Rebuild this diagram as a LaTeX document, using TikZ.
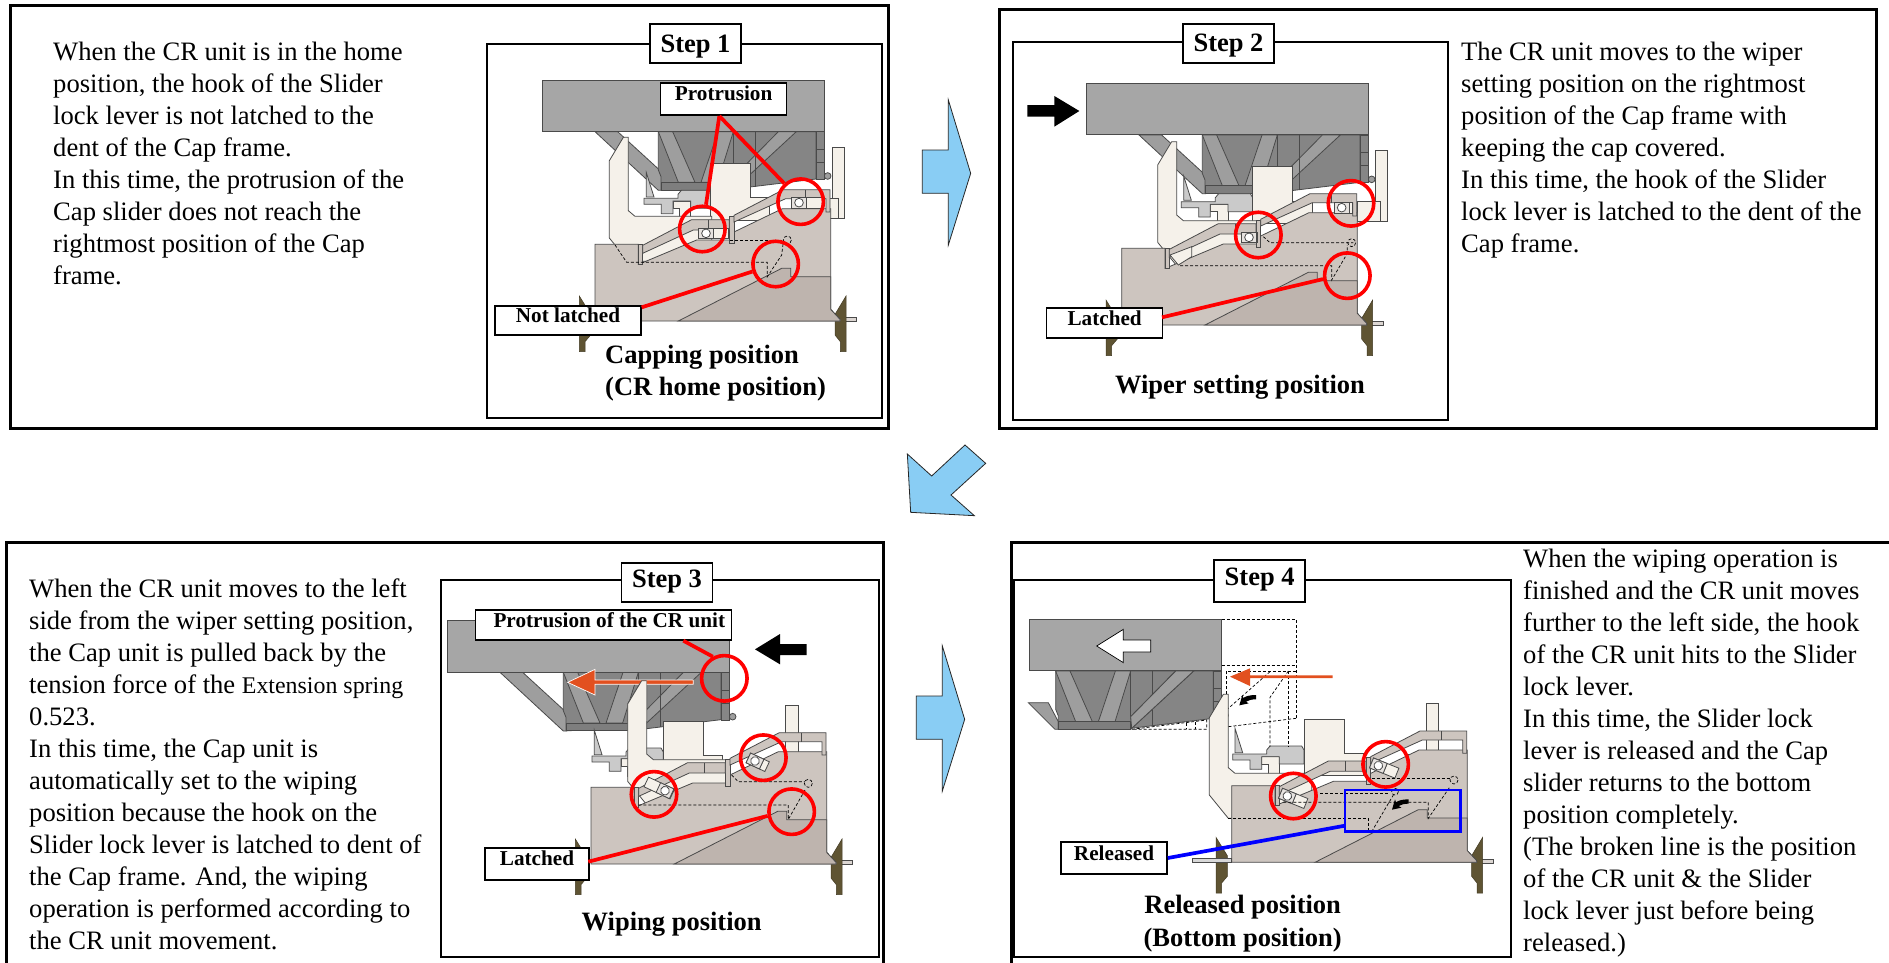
\documentclass[tikz,border=0pt]{standalone}
\usepackage{fontspec}
\setmainfont{Liberation Serif}
\definecolor{edgec}{HTML}{4A4A4A}
\definecolor{topg}{HTML}{A6A6A6}
\definecolor{bodyg}{HTML}{858585}
\definecolor{ribg}{HTML}{9E9E9E}
\definecolor{cream}{HTML}{F5F1EA}
\definecolor{tanl}{HTML}{CDC5BF}
\definecolor{tand}{HTML}{BEB4AE}
\definecolor{mechg}{HTML}{CACACA}
\definecolor{olive}{HTML}{5F5433}
\definecolor{skyb}{HTML}{89CDF4}
\definecolor{orng}{HTML}{E2501F}
\tikzset{
  zoomed/.style={x=0.33333pt,y=-0.33333pt},
  part/.style={draw=edgec,line width=.8pt},
  dsh/.style={draw=black,line width=.7pt,dash pattern=on 3pt off 2pt},
  outerbox/.style={draw=black,line width=3pt},
  innerbox/.style={draw=black,line width=1.8pt},
  stepbox/.style={draw=black,fill=white,line width=1.8pt,inner sep=0pt,minimum width=91pt,minimum height=39pt,font=\bfseries\fontsize{26.5}{30}\selectfont},
  lbl/.style={draw=black,fill=white,line width=1.6pt,inner sep=0pt,font=\bfseries\fontsize{21.2}{24}\selectfont},
  caption/.style={inner sep=0pt,font=\bfseries\fontsize{26.5}{32}\selectfont},
  para/.style={inner sep=0pt,anchor=north west,align=left,font=\fontsize{26.6}{32}\selectfont},
  ring/.style={circle,draw=red,line width=3.6pt,inner sep=0pt,minimum size=45.5pt},
  leader/.style={draw=red,line width=3.7pt},
  bluearrow/.style={fill=skyb,draw=black!85,line width=.8pt,line join=miter},
}
\newcommand{\placed}[3]{\begin{scope}[shift={(#1,#2)}]#3\end{scope}}
\newcommand{\setbase}[2]{\raisebox{#1}[0pt][0pt]{#2}}
% carriage unit: origin top right of the top block. #1 left of block, #2 strut outline
\newcommand{\crunit}[2]{%
  \filldraw[part,fill=ribg] #2 -- cycle;
  \filldraw[part,fill=bodyg] (-498,155)--(-25,155)--(-25,297)--(-273,327)--(-490,330)--(-490,290)--(-498,270)--cycle;
  \filldraw[part,fill=ribg] (-498,155)--(-455,155)--(-388,307)--(-438,307)--cycle;
  \filldraw[part,fill=ribg] (-319,155)--(-273,155)--(-320,307)--(-370,307)--cycle;
  \filldraw[part,fill=ribg] (-138,155)--(-84,155)--(-270,327)--(-273,292)--cycle;
  \draw[part] (-273,155)--(-273,292) (-208,155)--(-208,320);
  \filldraw[part,fill=ribg!80!black] (-490,307) rectangle (-273,330);
  \filldraw[part,fill=ribg] (10,288) circle (10);
  \filldraw[part,fill=ribg!85!black] (-25,155) rectangle (0,298);
  \draw[part] (-25,208)--(0,208) (-25,247)--(0,247);
  \filldraw[part,fill=topg] (#1,0) rectangle (0,154);
}
% gray cap-side parts: origin right top corner
\newcommand{\capmech}{%
  \filldraw[part,fill=mechg] (-207,28)--(-184,101)--(-207,101)--cycle;
  \filldraw[part,fill=cream] (-127,113)--(-74,113)--(-74,165)--(-107,165)--(-107,135)--(-127,135)--cycle;
  \filldraw[part,fill=mechg] (-112,93)--(-102,81)--(-7,81)--(0,93)--(0,135)--(-74,135)--(-74,113)--(-127,113)--(-127,151)--(-162,151)--(-162,123)--(-214,123)--(-214,105)--(-112,105)--cycle;
}
% block and its post: origin top left of the block
\newcommand{\capblock}{%
  \filldraw[part,fill=cream] (367,-48) rectangle (404,164);
  \filldraw[part,fill=cream] (314,105) rectangle (384,165);
  \filldraw[part,fill=cream] (0,0)--(120,0)--(120,103)--(178,103)--(178,170)--(0,170)--cycle;
}
% lock lever: origin top right of its tip
\newcommand{\locklever}{%
  \filldraw[part,fill=cream] (-57,70)--(-15,0)--(0,0)--(0,220)--(20,237)--(250,237)--(250,310)--(100,372)--(0,372)--(-57,302)--cycle;
}
% cap frame with its feet and slotted band: origin top left of the frame
\newcommand{\capframe}{%
  \fill[tanl!70!white,draw=edgec,line width=.6pt] (750,220) rectangle (785,232);
  \filldraw[draw=olive!70!black,line width=.5pt,fill=olive] (-47,155)--(-47,322)--(-30,322)--(-30,292)--(-13,272)--(-13,210)--cycle;
  \filldraw[draw=olive!70!black,line width=.5pt,fill=olive] (753,155)--(753,322)--(736,322)--(736,292)--(720,272)--(720,210)--cycle;
  \filldraw[part,fill=tanl] (0,0)--(130,0)--(130,60)--(150,52)--(305,-13)--(405,-13)--(417,-37)--(562,-107)--(707,-107)--(707,195)--(735,225)--(735,230)--(0,230)--cycle;
  \filldraw[part,fill=tand] (250,230)--(560,72)--(587,72)--(587,97)--(707,97)--(707,195)--(735,225)--(735,230)--cycle;
  \filldraw[part,fill=tanl] (130,0) rectangle (143,60);
  \filldraw[part,fill=tanl] (403,-85) rectangle (417,-3);
  \filldraw[part,fill=tanl] (143,3)--(290,-74)--(403,-74)--(403,-43)--(295,-43)--(143,27)--cycle;
  \filldraw[part,fill=tanl] (417,-87)--(565,-164)--(705,-164)--(705,-97)--(693,-97)--(693,-137)--(572,-137)--(417,-67)--cycle;
  \draw[part] (340,-74)--(340,-43) (630,-164)--(630,-137);
}
% roller in its holder: #1 x, #2 y, #3 angle, #4 right extension, #5 left extension
\newcommand{\roller}[5]{%
  \begin{scope}[shift={(#1,#2)},rotate=#3]
    \filldraw[part,fill=cream] (#5,-16) rectangle (#4,16);
    \draw[part] (22,-16)--(22,16);
    \filldraw[part,fill=tanl!50!white] (-22,-16) rectangle (22,16);
    \filldraw[part,fill=white] (0,0) circle (13);
  \end{scope}
}
\newcommand{\curly}{\fill[black] (738,405) .. controls (720,405) and (708,408) .. (700,414)--(697,405)--(688,436)--(716,430)--(708,425) .. controls (716,420) and (726,418) .. (738,418)--cycle;}
\begin{document}
\begin{tikzpicture}[x=1pt,y=-1pt]
\useasboundingbox (0,0) rectangle (1889,962);
\fill[white] (0,0) rectangle (1889,962);
% outer frames
\draw[outerbox] (10,5) rectangle (888,428);
\draw[outerbox] (999,9) rectangle (1876,428);
\draw[outerbox] (6,970)--(6,542)--(883,542)--(883,970);
\draw[outerbox] (1011,970)--(1011,542)--(1900,542);
% inner frames
\draw[innerbox] (487,44) rectangle (882,418);
\draw[innerbox] (1013,42) rectangle (1448,420);
\draw[innerbox] (441,580) rectangle (879,957);
\draw[innerbox] (1014,580) rectangle (1511,957);
% ---- panel 1
\begin{scope}[shift={(480,20)},zoomed]
  \placed{1033}{180}{\crunit{-847}{(-688,155)--(-620,155)--(-453,308)--(-488,331)--(-498,331)}}
  \placed{706}{430}{\capmech}
  \placed{690}{430}{\capblock}
  \placed{445}{352}{\locklever}
  \placed{345}{673}{\capframe}
  \roller{678}{640}{0}{66}{-22}
  \roller{957}{548}{0}{72}{-22}
  \draw[dsh] (405,675)--(440,727)--(862,727)--(862,770)--(905,705)--(910,665);
  \draw[dsh] (750,660)--(905,660);
  \draw[dsh] (922,660) circle (12);
  \node[ring] (c1a) at (667,627) {};
  \node[ring] (c1b) at (962,545) {};
  \node[ring] (c1c) at (887,732) {};
  \node[lbl,minimum width=126pt,minimum height=32pt] (prot) at (731,236.5) {\setbase{-2pt}{Protrusion}};
  \node[lbl,minimum width=146pt,minimum height=29pt] (notl) at (264,901.5) {\setbase{-2pt}{Not latched}};
  \coordinate (protfoot) at (718,288);
  \coordinate (notlend) at (485,862);
  \draw[leader] (protfoot)--(c1a);
  \draw[leader] (protfoot)--(c1b.132);
  \draw[leader] (notlend)--(c1c);
  \node[stepbox] (s1) at (646.5,70) {\setbase{-9pt}{Step 1}};
  \node[caption,anchor=west] (cap1a) at (375,1011) {Capping position};
  \node[caption,anchor=west] (cap1b) at (375,1106) {(CR home position)};
\end{scope}
% ---- panel 2
\begin{scope}[shift={(1010,20)},zoomed]
  \placed{1075}{190}{\crunit{-847}{(-688,155)--(-620,155)--(-453,308)--(-488,331)--(-498,331)}}
  \placed{728}{440}{\capmech}
  \placed{728}{440}{\capblock}
  \placed{500}{365}{\locklever}
  \placed{335}{685}{\capframe}
  \roller{717}{652}{0}{26}{-22}
  \roller{995}{563}{0}{32}{-22}
  \filldraw[part,fill=cream] (480,705)--(545,680)--(545,710)--(505,735)--cycle;
  \draw[dsh] (510,737)--(965,737)--(965,780)--(1012,700)--(1012,675);
  \draw[dsh] (760,650)--(780,668)--(1030,668);
  \draw[dsh] (1025,668) circle (12);
  \fill[black] (52,255)--(133,255)--(133,228)--(208,273)--(133,320)--(133,290)--(52,290)--cycle;
  \node[ring] (c2a) at (745,645) {};
  \node[ring] (c2b) at (1023,550) {};
  \node[ring] (c2c) at (1012,767) {};
  \node[lbl,minimum width=116pt,minimum height=30.5pt] (lat2) at (284,909) {\setbase{-2pt}{Latched}};
  \coordinate (lat2end) at (456,892);
  \draw[leader] (lat2end)--(c2c.188);
  \node[stepbox] (s2) at (655.5,70) {\setbase{-8pt}{Step 2}};
  \node[caption] (cap2) at (690,1101) {Wiper setting position};
\end{scope}
% ---- panel 3
\begin{scope}[shift={(435,560)},zoomed]
  \placed{883}{182}{\crunit{-847}{(-688,155)--(-620,155)--(-453,308)--(-488,331)--(-498,331)}}
  \placed{685}{483}{\capmech}
  \placed{685}{483}{\capblock}
  \placed{635}{362}{\locklever}
  \placed{468}{682}{\capframe}
  \roller{690}{692}{-25}{24}{-62}
  \roller{960}{603}{-25}{40}{-22}
  \draw[dsh] (610,735)--(1060,735)--(1060,778)--(1110,690);
  \draw[dsh] (890,645)--(910,665)--(1110,665);
  \draw[dsh] (1120,670) circle (12);
  \filldraw[draw=white,line width=.7pt,fill=orng] (775,360)--(480,360)--(480,328)--(398,367)--(480,405)--(480,373)--(775,373)--cycle;
  \begin{scope}
    \clip (576,362) rectangle (635,480);
    \placed{635}{362}{\locklever}
  \end{scope}
  \fill[black] (1115,252)--(1035,252)--(1035,222)--(960,268)--(1035,313)--(1035,285)--(1115,285)--cycle;
  \node[ring] (c3a) at (868,355) {};
  \node[ring] (c3b) at (985,593) {};
  \node[ring] (c3c) at (657,703) {};
  \node[ring] (c3d) at (1070,755) {};
  \node[lbl,minimum width=256pt,minimum height=30pt] (prot3) at (505,195) {\setbase{-2.7pt}{\hspace*{12pt}Protrusion of the CR unit}};
  \node[lbl,minimum width=104pt,minimum height=32pt] (lat3) at (306,911.5) {\setbase{-2pt}{Latched}};
  \coordinate (prot3end) at (745,242);
  \coordinate (lat3end) at (460,905);
  \draw[leader] (prot3end)--(c3a.118);
  \draw[leader] (lat3end)--(c3d.190);
  \node[stepbox] (s3) at (696,67) {\setbase{-5pt}{Step 3}};
  \node[caption] (cap3) at (710,1094) {Wiping position};
\end{scope}
% ---- panel 4
\begin{scope}[shift={(1010,560)},zoomed]
  \placed{635}{178}{\crunit{-578}{(-580,250)--(-520,250)--(-490,307)--(-490,330)--(-500,330)}}
  \filldraw[part,fill=ribg] (497,333)--(551,333)--(365,505)--(362,470)--cycle;
  \placed{882}{477}{\capmech}
  \placed{882}{477}{\capblock}
  \placed{655}{403}{\locklever}
  \placed{665}{677}{\capframe}
  \draw[part,fill=ribg!40!white] (548,895) rectangle (665,907);
  \roller{832}{708}{-22}{60}{-22}
  \roller{1105}{617}{-22}{60}{-22}
  \draw[dsh] (635,178)--(858,178)--(858,478);
  \draw[dsh] (635,316)--(858,316);
  \draw[dsh] (650,403)--(650,333)--(860,333);
  \draw[dsh] (780,335)--(655,445);
  \draw[dsh] (835,333)--(780,412)--(780,560);
  \draw[dsh] (835,333)--(835,560);
  \draw[dsh] (858,475)--(655,500);
  \draw[dsh] (365,508)--(590,480)--(590,508)--cycle;
  \draw[dsh] (530,490)--(530,508) (555,485)--(555,508);
  \draw[dsh] (655,775)--(1075,775)--(1075,815);
  \draw[dsh] (1085,815)--(1150,705);
  \draw[dsh] (930,700)--(1140,700);
  \draw[dsh] (1155,695) circle (10);
  \draw[dsh] (820,727)--(1255,727)--(1255,775)--(1320,680);
  \draw[dsh] (1085,655)--(1320,655);
  \draw[dsh] (1332,660) circle (12);
  \curly
  \begin{scope}[shift={(458,313)}]
    \curly
  \end{scope}
  \filldraw[draw=black,line width=.7pt,fill=white] (422,240)--(340,240)--(340,208)--(260,258)--(340,308)--(340,276)--(422,276)--cycle;
  \fill[orng] (968,346)--(720,346)--(720,325)--(660,350)--(720,378)--(720,354)--(968,354)--cycle;
  \node[ring] (c4a) at (850,708) {};
  \node[ring] (c4b) at (1127,613) {};
  \node[draw=blue,line width=2.2pt,inner sep=0pt,minimum width=115.7pt,minimum height=41.7pt] (relbox) at (1178,752) {};
  \node[lbl,minimum width=106pt,minimum height=32pt] (rel4) at (312,894) {\setbase{-2pt}{Released}};
  \coordinate (relend) at (1005,797);
  \draw[draw=blue,line width=3.7pt] (rel4.east)--(relend);
  \node[stepbox,minimum height=42pt] (s4) at (749,63) {\setbase{-4pt}{Step 4}};
  \node[caption] (cap4a) at (698,1041) {Released position};
  \node[caption] (cap4b) at (698,1139) {(Bottom position)};
\end{scope}
% ---- block arrows
\begin{scope}[shift={(880,90)},zoomed]
  \filldraw[bluearrow] (205,30)--(272,250)--(205,465)--(205,310)--(127,310)--(127,180)--(205,180)--cycle;
  \filldraw[bluearrow] (82,1092)--(155,1158)--(255,1065)--(317,1120)--(213,1215)--(283,1277)--(92,1267)--cycle;
\end{scope}
\begin{scope}[shift={(874,636)},zoomed]
  \filldraw[bluearrow] (205,30)--(272,250)--(205,465)--(205,310)--(127,310)--(127,180)--(205,180)--cycle;
\end{scope}
% ---- texts
\node[para] (t1) at (53,42) {When the CR unit is in the home\\position, the hook of the Slider\\lock lever is not latched to the\\dent of the Cap frame.\\In this time, the protrusion of the\\Cap slider does not reach the\\rightmost position of the Cap\\frame.};
\node[para] (t2) at (1461,42) {The CR unit moves to the wiper\\setting position on the rightmost\\position of the Cap frame with\\keeping the cap covered.\\In this time, the hook of the Slider\\lock lever is latched to the dent of the\\Cap frame.};
\node[para] (t3) at (29,579) {When the CR unit moves to the left\\side from the wiper setting position,\\the Cap unit is pulled back by the\\tension force of the {\fontsize{23.9}{32}\selectfont Extension spring}\\0.523.\\In this time, the Cap unit is\\automatically set to the wiping\\position because the hook on the\\Slider lock lever is latched to dent of\\the Cap frame. And, the wiping\\operation is performed according to\\the CR unit movement.};
\node[para] (t4) at (1523,549) {When the wiping operation is\\finished and the CR unit moves\\further to the left side, the hook\\of the CR unit hits to the Slider\\lock lever.\\In this time, the Slider lock\\lever is released and the Cap\\slider returns to the bottom\\position completely.\\(The broken line is the position\\of the CR unit \& the Slider\\lock lever just before being\\released.)};
\end{tikzpicture}
\end{document}
